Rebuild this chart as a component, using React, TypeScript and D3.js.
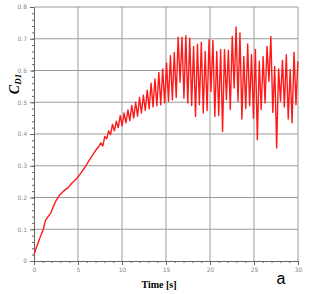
import { useEffect, useRef } from "react";
import * as d3 from "d3";

// smooth rise before the shedding starts
const riseTime = [0, 0.3, 0.7, 1.06, 1.3, 1.6, 1.9, 2.2, 2.5, 2.95, 3.4, 3.9, 4.3, 4.85, 5.2, 5.6, 5.9, 6.2, 6.5, 6.8, 7.1, 7.35];
const riseValue = [0.02, 0.045, 0.075, 0.1, 0.128, 0.14, 0.151, 0.172, 0.19, 0.209, 0.221, 0.232, 0.245, 0.26, 0.272, 0.288, 0.3, 0.314, 0.327, 0.34, 0.352, 0.36];

// oscillating part: peak / trough values
const oscStart = 7.6;
const oscPeriod = 0.439;
const peakValues = [
  0.372, 0.392, 0.41, 0.43, 0.44, 0.458, 0.466, 0.476, 0.49, 0.5, 0.515, 0.522, 0.538,
  0.56, 0.573, 0.594, 0.605, 0.624, 0.647, 0.657, 0.705, 0.705, 0.71, 0.702, 0.676, 0.683,
  0.689, 0.66, 0.697, 0.695, 0.66, 0.666, 0.666, 0.664, 0.707, 0.737, 0.718, 0.644, 0.684,
  0.65, 0.666, 0.629, 0.644, 0.676, 0.707, 0.613, 0.605, 0.632, 0.65, 0.603, 0.658, 0.629,
];
const troughValues = [
  0.362, 0.385, 0.398, 0.41, 0.42, 0.426, 0.435, 0.442, 0.45, 0.456, 0.466, 0.474, 0.48,
  0.485, 0.489, 0.492, 0.498, 0.503, 0.508, 0.515, 0.563, 0.513, 0.498, 0.49, 0.455, 0.492,
  0.466, 0.474, 0.534, 0.455, 0.458, 0.408, 0.508, 0.477, 0.545, 0.503, 0.447, 0.48, 0.489,
  0.45, 0.382, 0.477, 0.498, 0.566, 0.468, 0.356, 0.503, 0.485, 0.447, 0.435, 0.492,
];

const xTicks = [0, 5, 10, 15, 20, 25, 30];
const yTicks = [0, 0.1, 0.2, 0.3, 0.4, 0.5, 0.6, 0.7, 0.8];

interface Pt {
  t: number;
  v: number;
}

export default function App() {
  const svgRef = useRef<SVGSVGElement>(null);
  const width = 312;
  const height = 294;

  useEffect(() => {
    if (!svgRef.current) return;
    const margin = { top: 7, right: 14, bottom: 33, left: 34 };
    const innerWidth = width - margin.left - margin.right;
    const innerHeight = height - margin.top - margin.bottom;

    const svg = d3.select(svgRef.current);
    svg.selectAll("*").remove();

    const x = d3.scaleLinear().domain([0, 30]).range([0, innerWidth]);
    const y = d3.scaleLinear().domain([0, 0.8]).range([innerHeight, 0]);

    const g = svg
      .append("g")
      .attr("transform", `translate(${margin.left},${margin.top})`);

    // grid
    g.selectAll(".vgrid")
      .data(xTicks.slice(1))
      .enter()
      .append("line")
      .attr("x1", (d) => x(d))
      .attr("x2", (d) => x(d))
      .attr("y1", 0)
      .attr("y2", innerHeight)
      .attr("stroke", "#9a9a9a")
      .attr("stroke-width", 1);
    g.selectAll(".hgrid")
      .data(yTicks.slice(1))
      .enter()
      .append("line")
      .attr("x1", 0)
      .attr("x2", innerWidth)
      .attr("y1", (d) => y(d))
      .attr("y2", (d) => y(d))
      .attr("stroke", "#9a9a9a")
      .attr("stroke-width", 1);

    // axes
    const yAxis = g.append("g").call(
      d3
        .axisLeft(y)
        .tickValues(yTicks)
        .tickSize(4)
        .tickFormat((d) => (d === 0 ? "0" : d3.format(".1f")(d as number)))
    );
    const yMinor = g.append("g").call(
      d3.axisLeft(y).ticks(40).tickSize(2).tickFormat(() => "")
    );
    const xAxis = g
      .append("g")
      .attr("transform", `translate(0,${innerHeight})`)
      .call(d3.axisBottom(x).tickValues(xTicks).tickSize(4).tickPadding(3));
    const xMinor = g
      .append("g")
      .attr("transform", `translate(0,${innerHeight})`)
      .call(d3.axisBottom(x).ticks(30).tickSize(2).tickFormat(() => ""));

    [yAxis, xAxis].forEach((a) => {
      a.select(".domain").attr("stroke", "#666");
      a.selectAll("line").attr("stroke", "#666");
      a.selectAll("text")
        .attr("fill", "#888")
        .style("font-family", "DejaVu Sans, sans-serif")
        .style("font-size", "6px");
    });
    [yMinor, xMinor].forEach((a) => {
      a.select(".domain").remove();
      a.selectAll("line").attr("stroke", "#666");
    });

    // data points
    const pts: Pt[] = riseTime.map((t, i) => ({ t, v: riseValue[i] }));
    peakValues.forEach((p, i) => {
      pts.push({ t: oscStart + i * oscPeriod, v: p });
      if (i < troughValues.length)
        pts.push({ t: oscStart + (i + 0.5) * oscPeriod, v: troughValues[i] });
    });

    const line = d3
      .line<Pt>()
      .x((d) => x(d.t))
      .y((d) => y(d.v));

    g.append("path")
      .datum(pts)
      .attr("fill", "none")
      .attr("stroke", "#ff1a1a")
      .attr("stroke-width", 1.4)
      .attr("stroke-linejoin", "round")
      .attr("d", line);

    // axis titles
    const yt = svg
      .append("text")
      .attr("transform", `translate(19,84) rotate(-90)`)
      .attr("text-anchor", "middle")
      .style("font-family", "Liberation Serif, serif")
      .style("font-weight", "bold")
      .style("font-style", "italic");
    yt.append("tspan").style("font-size", "14px").text("C");
    yt.append("tspan").style("font-size", "9px").attr("dy", 2).text("D1");

    svg
      .append("text")
      .attr("x", 159)
      .attr("y", 288)
      .attr("text-anchor", "middle")
      .style("font-family", "Liberation Serif, serif")
      .style("font-weight", "bold")
      .style("font-size", "10px")
      .text("Time [s]");

    svg
      .append("text")
      .attr("x", 281)
      .attr("y", 284)
      .attr("text-anchor", "middle")
      .style("font-family", "Liberation Sans, Arial, sans-serif")
      .style("font-size", "16px")
      .attr("fill", "#000")
      .text("a");
  }, []);

  return (
    <>
      <style>{`body{margin:0;background:#fff}`}</style>
      <svg ref={svgRef} width={width} height={height} style={{ display: "block" }} />
    </>
  );
}
